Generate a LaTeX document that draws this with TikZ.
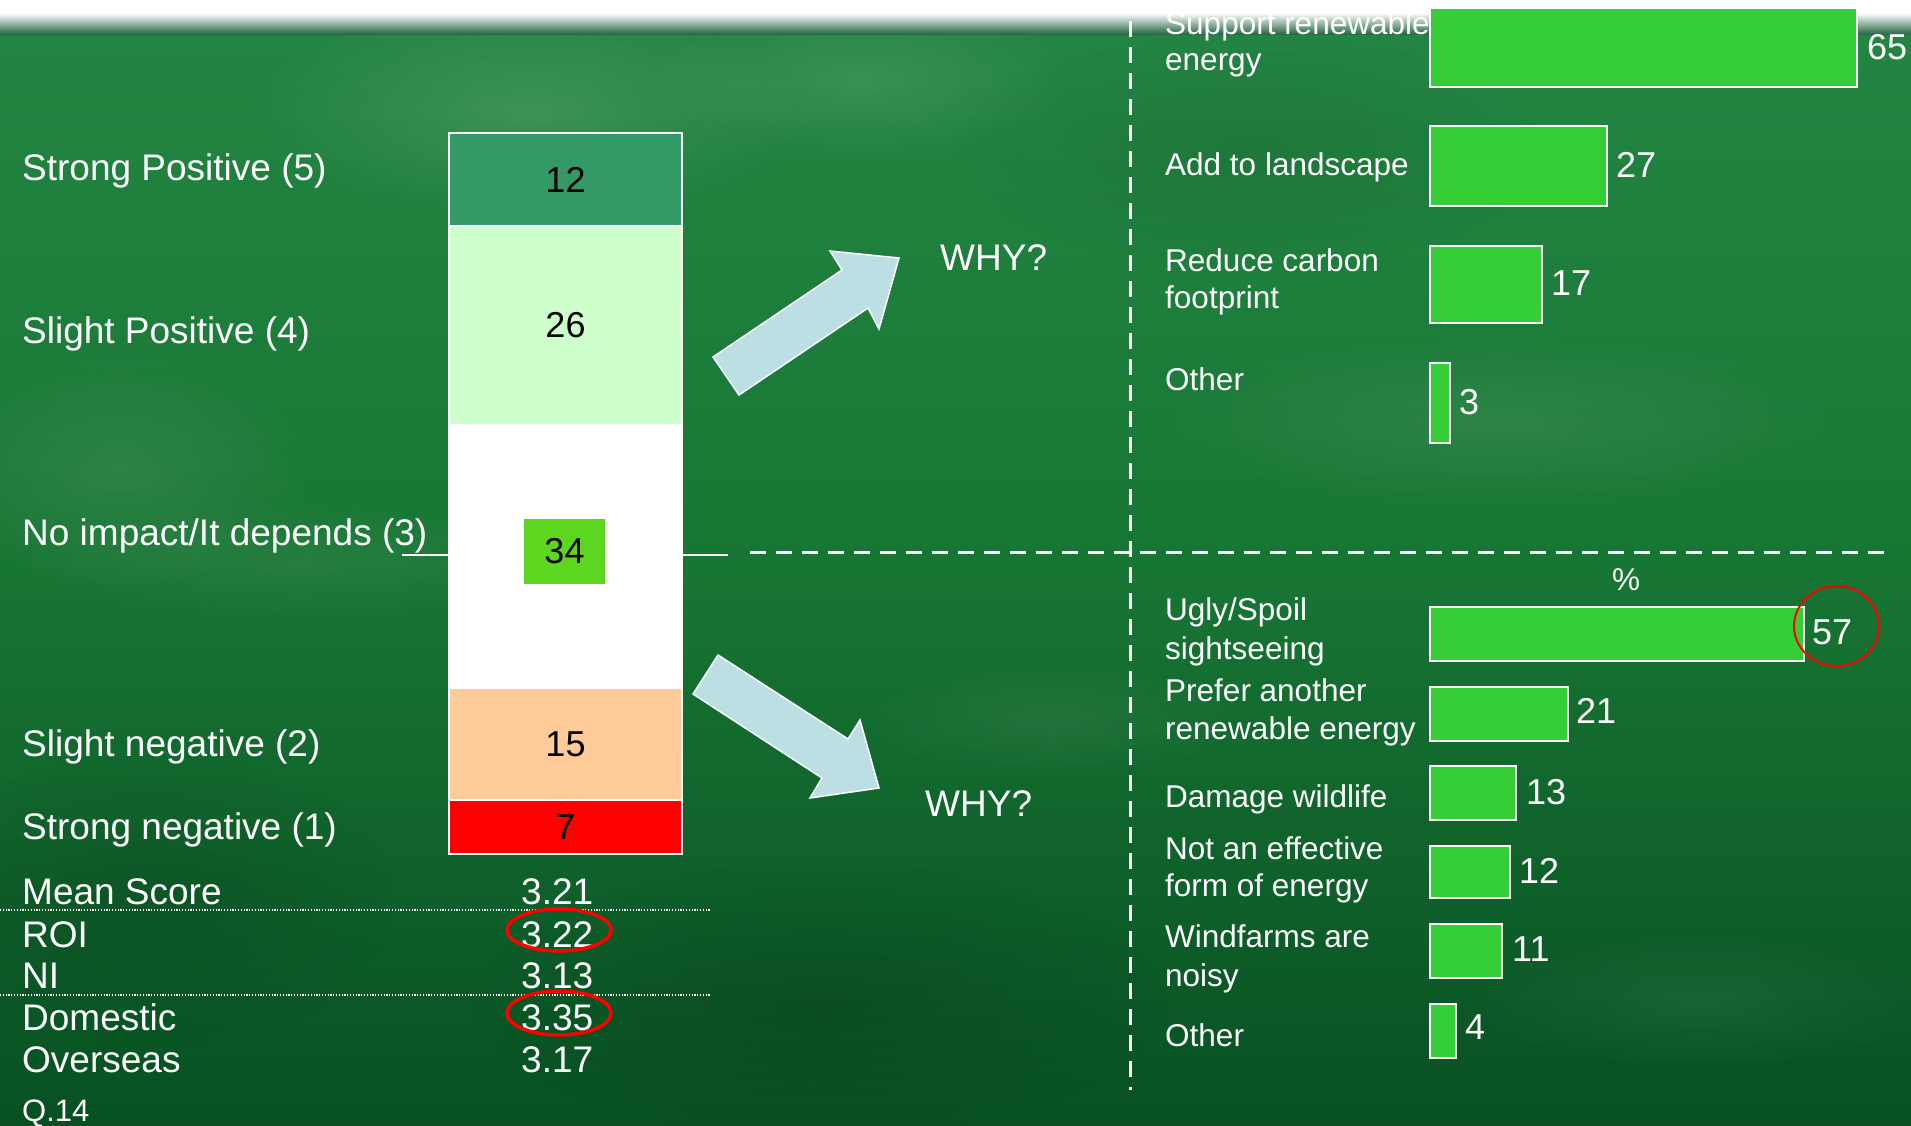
\documentclass[tikz,border=0pt]{standalone}
\usepackage{fontspec}
\setmainfont{Liberation Sans}
\usetikzlibrary{fadings}
\tikzfading[name=blobfade, inner color=transparent!0, outer color=transparent!100]
\definecolor{bgtop}{RGB}{36,134,68}
\definecolor{bgmid}{RGB}{24,118,52}
\definecolor{bgbot}{RGB}{8,80,34}
\definecolor{bandgr}{RGB}{40,105,70}
\definecolor{segA}{RGB}{51,153,102}
\definecolor{segB}{RGB}{204,255,204}
\definecolor{segD}{RGB}{255,204,153}
\definecolor{segE}{RGB}{255,0,0}
\definecolor{lblgreen}{RGB}{92,214,30}
\definecolor{barg}{RGB}{54,206,54}
\definecolor{arrowc}{RGB}{188,223,227}
\begin{document}
\begin{tikzpicture}[x=1pt,y=-1pt,
  lab/.style={text=white, font=\fontsize{37}{44}\selectfont, anchor=base west, inner sep=0pt},
  rlab/.style={text=white, font=\fontsize{31.5}{38}\selectfont, anchor=base west, inner sep=0pt},
  val/.style={text=white, font=\fontsize{36}{43}\selectfont, anchor=base west, inner sep=0pt},
  seg/.style={draw=white, line width=2pt, minimum width=233pt, inner sep=0pt, font=\fontsize{36}{43}\selectfont, text=black},
  hbar/.style={draw=white, line width=2pt, fill=barg, anchor=north west, inner sep=0pt},
  blockarrow/.style={fill=arrowc, draw=white, line width=1.5pt, line join=miter},
  divline/.style={white, line width=3pt, dash pattern=on 16pt off 10pt},
  dotline/.style={white, line width=1.2pt, dash pattern=on 1.2pt off 1.6pt},
  ring/.style={draw=red, line width=3.5pt},
  blob/.style={path fading=blobfade}
]
\useasboundingbox (0,0) rectangle (1911,1125);
\clip (0,0) rectangle (1911,1125);
% background
\shade[top color=bgtop, bottom color=bgbot, middle color=bgmid] (0,0) rectangle (1911,1125);
\fill[white, opacity=0.12, blob] (530,110) ellipse (280pt and 110pt);
\fill[white, opacity=0.10, blob] (860,80) ellipse (220pt and 80pt);
\fill[white, opacity=0.08, blob] (120,470) ellipse (200pt and 120pt);
\fill[white, opacity=0.08, blob] (1500,420) ellipse (350pt and 90pt);
\fill[white, opacity=0.06, blob] (300,560) ellipse (300pt and 60pt);
\fill[white, opacity=0.06, blob] (1700,1000) ellipse (250pt and 70pt);
\fill[white, opacity=0.06, blob] (1050,720) ellipse (200pt and 60pt);
\fill[black, opacity=0.12, blob] (820,1000) ellipse (350pt and 140pt);
\fill[black, opacity=0.10, blob] (150,900) ellipse (250pt and 150pt);
\fill[black, opacity=0.08, blob] (1250,150) ellipse (300pt and 120pt);
% top band
\fill[white] (0,0) rectangle (1911,13);
\shade[top color=white, bottom color=bandgr] (0,13) rectangle (1911,34);
% separators
\coordinate (vtop) at (1130,21);
\coordinate (vbot) at (1130,1090);
\coordinate (hleft) at (750,552);
\coordinate (hright) at (1890,552);
\draw[divline] (vtop) -- (vbot);
\draw[divline] (hleft) -- (hright);
\coordinate (ax1) at (402,555);
\coordinate (ax2) at (449,555);
\coordinate (ax3) at (682,555);
\coordinate (ax4) at (728,555);
\draw[white, line width=1.5pt] (ax1) -- (ax2);
\draw[white, line width=1.5pt] (ax3) -- (ax4);
\coordinate (d1a) at (0,910);
\coordinate (d1b) at (710,910);
\coordinate (d2a) at (0,995);
\coordinate (d2b) at (710,995);
\draw[dotline] (d1a) -- (d1b);
\draw[dotline] (d2a) -- (d2b);
% stacked bar
\node[seg, fill=segA, minimum height=93pt] (s12) at (565.5,179.5) {12};
\node[seg, fill=segB, minimum height=199pt] (s26) at (565.5,325.5) {26};
\node[seg, fill=white, draw=white, minimum height=262pt] (s34) at (565.5,556.5) {};
\node[fill=lblgreen, minimum width=81pt, minimum height=65pt, inner sep=0pt, font=\fontsize{36}{43}\selectfont, text=black] (v34) at (564.5,551.5) {34};
\node[seg, fill=segD, minimum height=112pt] (s15) at (565.5,744) {15};
\node[seg, fill=segE, minimum height=54pt] (s7) at (565.5,827) {7};
% block arrows
\draw[blockarrow] (713,357) -- (842,270) -- (830,251) -- (899,258) -- (879,329) -- (868,308) -- (739,395) -- cycle;
\draw[blockarrow] (718,655) -- (848,739) -- (860,720) -- (879,788) -- (810,798) -- (822,778) -- (693,694) -- cycle;
\node[lab] (why1) at (940,270) {WHY?};
\node[lab] (why2) at (925,816) {WHY?};
% left labels
\node[lab] (l5) at (22,180) {Strong Positive (5)};
\node[lab] (l4) at (22,343) {Slight Positive (4)};
\node[lab] (l3) at (22,545) {No impact/It depends (3)};
\node[lab] (l2) at (22,756) {Slight negative (2)};
\node[lab] (l1) at (22,839) {Strong negative (1)};
\node[lab] (m0) at (22,904) {Mean Score};
\node[lab] (m1) at (22,947) {ROI};
\node[lab] (m2) at (22,988) {NI};
\node[lab] (m3) at (22,1030) {Domestic};
\node[lab] (m4) at (22,1072) {Overseas};
\node[text=white, font=\fontsize{31}{36}\selectfont, anchor=base west, inner sep=0pt] (q14) at (22,1121) {Q.14};
\node[lab] (n0) at (521,904) {3.21};
\node[lab] (n1) at (521,947) {3.22};
\node[lab] (n2) at (521,988) {3.13};
\node[lab] (n3) at (521,1030) {3.35};
\node[lab] (n4) at (521,1072) {3.17};
\draw[ring] (559,930) ellipse (52pt and 21pt);
\draw[ring] (559,1013) ellipse (52pt and 22pt);
% upper chart
\node[rlab] (u1a) at (1165,34) {Support renewable};
\node[rlab] (u1b) at (1165,70) {energy};
\node[rlab] (u2) at (1165,175) {Add to landscape};
\node[rlab] (u3a) at (1165,271) {Reduce carbon};
\node[rlab] (u3b) at (1165,308) {footprint};
\node[rlab] (u4) at (1165,390) {Other};
\node[hbar, minimum width=427pt, minimum height=79pt] (b65) at (1429,7) {};
\node[hbar, minimum width=177pt, minimum height=80pt] (b27) at (1429,125) {};
\node[hbar, minimum width=112pt, minimum height=77pt] (b17) at (1429,245) {};
\node[hbar, minimum width=20pt, minimum height=80pt] (b3) at (1429,362) {};
\node[val] (t65) at (1867,59) {65};
\node[val] (t27) at (1616,177) {27};
\node[val] (t17) at (1551,295) {17};
\node[val] (t3) at (1459,414) {3};
% lower chart
\node[rlab, anchor=base] (pct) at (1626,590) {\%};
\node[hbar, minimum width=374pt, minimum height=54pt] (c57) at (1429,606) {};
\node[hbar, minimum width=138pt, minimum height=54pt] (c21) at (1429,686) {};
\node[hbar, minimum width=86pt, minimum height=54pt] (c13) at (1429,765) {};
\node[hbar, minimum width=80pt, minimum height=52pt] (c12) at (1429,845) {};
\node[hbar, minimum width=72pt, minimum height=54pt] (c11) at (1429,923) {};
\node[hbar, minimum width=26pt, minimum height=54pt] (c4) at (1429,1003) {};
\node[rlab] (w1a) at (1165,620) {Ugly/Spoil};
\node[rlab] (w1b) at (1165,659) {sightseeing};
\node[rlab] (w2a) at (1165,701) {Prefer another};
\node[rlab] (w2b) at (1165,739) {renewable energy};
\node[rlab] (w3) at (1165,807) {Damage wildlife};
\node[rlab] (w4a) at (1165,859) {Not an effective};
\node[rlab] (w4b) at (1165,896) {form of energy};
\node[rlab] (w5a) at (1165,947) {Windfarms are};
\node[rlab] (w5b) at (1165,986) {noisy};
\node[rlab] (w6) at (1165,1046) {Other};
\node[val] (t57) at (1812,644) {57};
\node[val] (t21) at (1576,723) {21};
\node[val] (t13) at (1526,804) {13};
\node[val] (t12) at (1519,883) {12};
\node[val] (t11) at (1512,961) {11};
\node[val] (t4) at (1465,1039) {4};
\draw[red, line width=2pt] (1836.5,626) ellipse (42.5pt and 40pt);
\end{tikzpicture}
\end{document}
